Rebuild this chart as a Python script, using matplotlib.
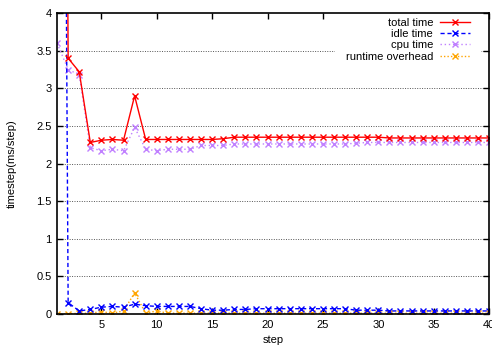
import matplotlib
matplotlib.use("Agg")
import matplotlib.pyplot as plt
import numpy as np

plt.rcParams['font.family'] = ['Liberation Sans', 'DejaVu Sans']

steps = list(range(1, 41))
total_time = [28.6, 3.40, 3.22, 2.28, 2.31, 2.32, 2.31, 2.90, 2.32, 2.32,
              2.32, 2.32, 2.32, 2.32, 2.32, 2.33, 2.35, 2.35, 2.35, 2.35,
              2.35, 2.35, 2.35, 2.35, 2.35, 2.35, 2.35, 2.35, 2.35, 2.35,
              2.34, 2.34, 2.34, 2.34, 2.34, 2.34, 2.34, 2.34, 2.34, 2.34]
idle_time = [25.0, 0.15, 0.04, 0.06, 0.09, 0.10, 0.09, 0.13, 0.11, 0.10,
             0.10, 0.10, 0.10, 0.07, 0.05, 0.05, 0.06, 0.06, 0.07, 0.07,
             0.07, 0.07, 0.07, 0.07, 0.07, 0.07, 0.07, 0.05, 0.05, 0.05,
             0.04, 0.04, 0.04, 0.04, 0.04, 0.04, 0.04, 0.04, 0.04, 0.04]
cpu_time = [3.60, 3.25, 3.18, 2.21, 2.17, 2.19, 2.17, 2.48, 2.19, 2.17,
            2.19, 2.19, 2.19, 2.24, 2.24, 2.24, 2.26, 2.26, 2.26, 2.26,
            2.26, 2.26, 2.26, 2.26, 2.26, 2.26, 2.26, 2.27, 2.28, 2.28,
            2.28, 2.28, 2.28, 2.28, 2.28, 2.28, 2.28, 2.28, 2.28, 2.28]
runtime_overhead = [0.00, 0.00, 0.01, 0.01, 0.03, 0.01, 0.04, 0.28, 0.01, 0.04,
                    0.01, 0.01, 0.01, 0.01, 0.01, 0.01, 0.01, 0.01, 0.01, 0.01,
                    0.01, 0.01, 0.01, 0.01, 0.01, 0.01, 0.01, 0.01, 0.01, 0.01,
                    0.01, 0.01, 0.01, 0.01, 0.01, 0.01, 0.01, 0.01, 0.01, 0.01]

fig = plt.figure(figsize=(4.92, 3.45), dpi=100)
ax = fig.add_axes([0.116, 0.090, 0.878, 0.872])

for yv in np.arange(0.5, 4.0, 0.5):
    ax.axhline(yv, color='#555555', lw=0.7, ls=(0, (1, 1.5)), zorder=0)

ms = 4.5
ax.plot(steps, total_time, color='#ff0000', lw=1.0, ls='-', marker='x', ms=ms,
        mew=1.0, label='total time', zorder=5)
ax.plot(steps, idle_time, color='#0000ff', lw=1.0, ls=(0, (3, 2)), marker='x', ms=ms,
        mew=1.0, label='idle time', zorder=4)
ax.plot(steps, cpu_time, color='#c080ff', lw=1.0, ls=(0, (1, 2)), marker='x', ms=ms,
        mew=1.0, label='cpu time', zorder=3)
ax.plot(steps, runtime_overhead, color='#ffa500', lw=1.0, ls=(0, (1, 1.5)), marker='x', ms=ms,
        mew=1.0, label='runtime overhead', zorder=3)

ax.set_xlim(1, 40)
ax.set_ylim(0, 4)
ax.set_xticks(range(5, 41, 5))
ax.set_yticks(np.arange(0, 4.01, 0.5))
ax.set_yticklabels(['0', '0.5', '1', '1.5', '2', '2.5', '3', '3.5', '4'])
ax.tick_params(direction='in', top=True, right=True, labelsize=8, length=4, width=1, pad=4)
for s in ax.spines.values():
    s.set_linewidth(1.2)
    s.set_zorder(10)

ax.set_xlabel('step', fontsize=8, labelpad=4)
ax.set_ylabel('timestep(ms/step)', fontsize=8, labelpad=14)

leg = ax.legend(loc='upper right', bbox_to_anchor=(0.981, 1.022), markerfirst=False,
                frameon=True, fontsize=8, handlelength=2.7, borderaxespad=0.0,
                labelspacing=0.12, handletextpad=0.6, borderpad=1.0)
leg.get_frame().set_edgecolor('none')
leg.get_frame().set_facecolor('white')
leg.get_frame().set_alpha(1.0)
leg._legend_box.align = 'right'
leg.set_zorder(2)

fig.savefig('out.png', dpi=100)
